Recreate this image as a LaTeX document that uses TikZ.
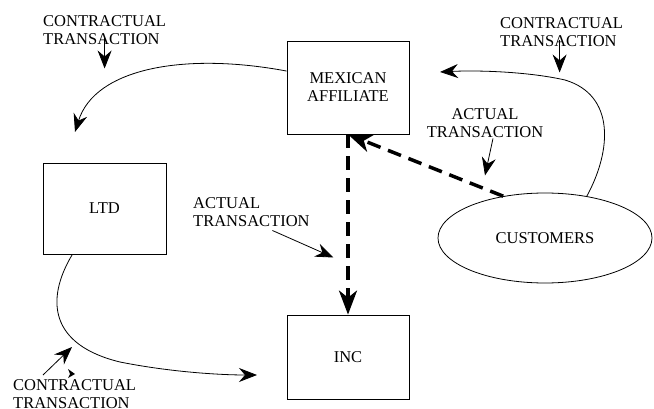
\documentclass[tikz,border=0pt]{standalone}
\usepackage{fontspec}
\setmainfont{Liberation Serif}
\usetikzlibrary{arrows.meta,shapes.geometric}

\begin{document}
\begin{tikzpicture}[x=1pt,y=-1pt,
  every node/.style={font=\fontsize{16.5}{18}\selectfont},
  entity/.style={draw,line width=0.8pt,align=center,inner sep=0pt},
  lbl/.style={inner sep=0pt,anchor=north west,align=left},
  flow/.style={line width=0.8pt,-{Stealth[length=18pt,width=14pt,inset=6pt]}},
  actual/.style={line width=3.5pt,dash pattern=on 14pt off 8pt,
    -{Stealth[length=24pt,width=18pt,inset=7pt]}}]
  \useasboundingbox (0,0) rectangle (654,409);
  % entities
  \node[entity,minimum width=122,minimum height=93] (maf) at (348,87.5) {MEXICAN\\AFFILIATE};
  \node[entity,minimum width=123,minimum height=91] (ltd) at (104.5,208.5) {LTD};
  \node[entity,minimum width=122,minimum height=84] (inc) at (348,357) {INC};
  \node[entity,ellipse,minimum width=214,minimum height=90] (cust) at (545,238) {CUSTOMERS};
  % labels
  \node[lbl] (ctop) at (43,15) {CONTRACTUAL\\TRANSACTION};
  \node[lbl] (cright) at (500,17) {CONTRACTUAL\\TRANSACTION};
  \node[lbl,anchor=north,align=center] (aright) at (485,108) {ACTUAL\\TRANSACTION};
  \node[lbl] (aleft) at (193,197) {ACTUAL\\TRANSACTION};
  \node[lbl] (cbottom) at (13,379) {CONTRACTUAL\\TRANSACTION};
  % free ends of the contractual flows
  \coordinate (ltdin) at (75,132);
  \coordinate (incin) at (257,375);
  \coordinate (mafin) at (440,72);
  % contractual flows
  \draw[flow] (maf.165) .. controls (185,52) and (95,68) .. (ltdin);
  \draw[flow] (ltd.235) .. controls (45,300) and (50,345) .. (120,362)
    .. controls (170,372) and (220,375) .. (incin);
  \draw[flow] (cust.45) .. controls (612,150) and (615,95) .. (565,80)
    .. controls (530,72) and (480,70) .. (mafin);
  % actual flows
  \draw[actual] (cust.135) -- (maf.south);
  \draw[actual] (maf.south) -- (inc.north);
  % label pointers
  \draw[flow] ([yshift=6pt]ctop.south) -- ++(0,30);
  \draw[flow] ([xshift=-2pt,yshift=6pt]cright.south) -- ++(0,32);
  \draw[flow] ([xshift=8pt,yshift=-1pt]aright.south) -- ++(-8,37);
  \draw[flow] ([xshift=21pt,yshift=-4pt]aleft.south) -- ++(61,27);
  \draw[flow] ([xshift=30pt,yshift=4pt]cbottom.north west) -- ++(29,-28);
  \fill (68,369) -- (75,374) -- (68,378) -- (70,374) -- cycle;
\end{tikzpicture}
\end{document}
